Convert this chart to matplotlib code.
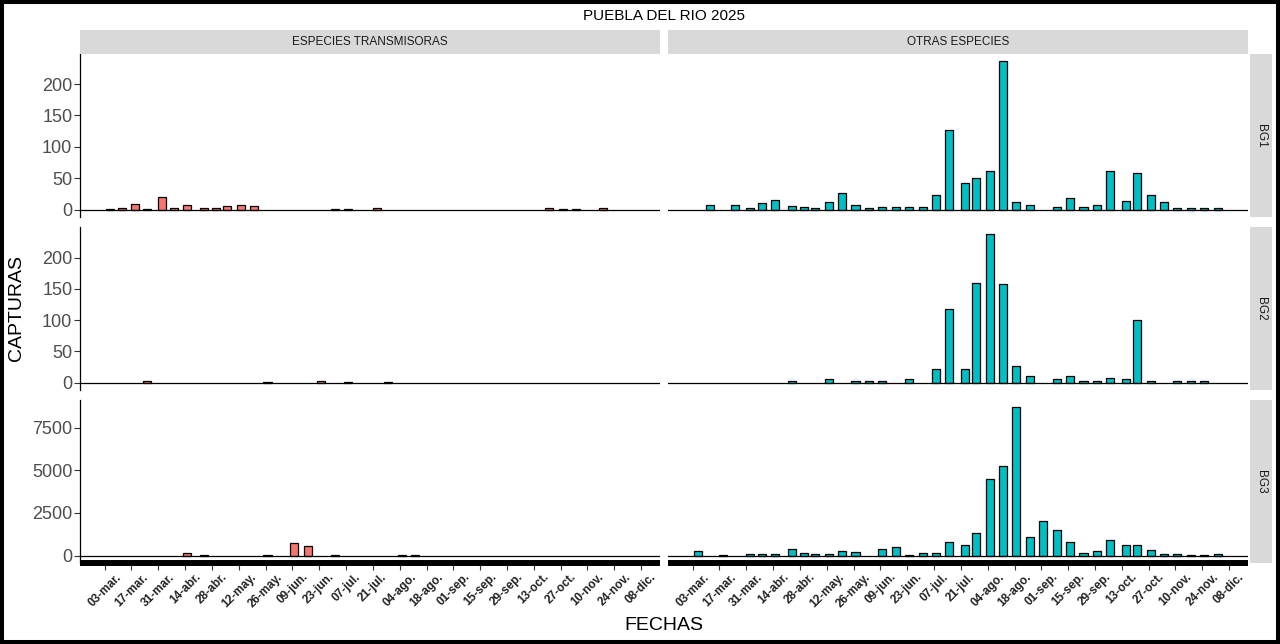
import matplotlib
matplotlib.use('Agg')
import matplotlib.pyplot as plt
import matplotlib.dates as mdates
import numpy as np
import pandas as pd
from matplotlib.patches import Rectangle

plt.rcParams['font.family'] = ['Liberation Sans', 'DejaVu Sans']

# ---------------- data ----------------
dates = ['2025-03-06', '2025-03-12', '2025-03-19', '2025-03-25', '2025-04-02', '2025-04-08',
         '2025-04-15', '2025-04-24', '2025-04-30', '2025-05-06', '2025-05-13', '2025-05-20',
         '2025-05-27', '2025-06-03', '2025-06-10', '2025-06-17', '2025-06-24', '2025-07-01',
         '2025-07-08', '2025-07-15', '2025-07-23', '2025-07-29', '2025-08-05', '2025-08-12',
         '2025-08-19', '2025-08-26', '2025-09-02', '2025-09-09', '2025-09-16', '2025-09-23',
         '2025-09-30', '2025-10-07', '2025-10-15', '2025-10-21', '2025-10-28', '2025-11-04',
         '2025-11-11', '2025-11-18', '2025-11-25', '2025-12-02']

col_names = ['ESPECIES TRANSMISORAS', 'OTRAS ESPECIES']
row_names = ['BG1', 'BG2', 'BG3']

trans_bg1 = [1, 3, 9, 1, 20, 3, 8, 3, 3, 6, 8, 6, 0, 0, 0, 0, 0, 1, 1, 0,
             3, 0, 0, 0, 0, 0, 0, 0, 0, 0, 0, 0, 0, 3, 1, 1, 0, 3, 0, 0]
trans_bg2 = [0, 0, 0, 3, 0, 0, 0, 0, 0, 0, 0, 0, 1, 0, 0, 0, 3, 0, 1, 0,
             0, 1, 0, 0, 0, 0, 0, 0, 0, 0, 0, 0, 0, 0, 0, 0, 0, 0, 0, 0]
trans_bg3 = [0, 0, 0, 0, 0, 0, 160, 60, 0, 0, 0, 0, 60, 0, 710, 590, 0, 60, 0, 0,
             0, 0, 60, 60, 0, 0, 0, 0, 0, 0, 0, 0, 0, 0, 0, 0, 0, 0, 0, 0]

otras_bg1 = [0, 7, 0, 8, 3, 10, 16, 5, 4, 2, 12, 27, 7, 2, 4, 4, 4, 4, 24, 127,
             42, 51, 62, 236, 12, 7, 0, 4, 18, 4, 7, 62, 13, 58, 24, 12, 2, 2, 2, 2]
otras_bg2 = [0, 0, 0, 0, 0, 0, 0, 2, 0, 0, 5, 0, 3, 2, 2, 0, 5, 0, 22, 117,
             21, 160, 237, 157, 26, 11, 0, 6, 10, 2, 3, 8, 5, 100, 3, 0, 2, 2, 2, 0]
otras_bg3 = [250, 0, 60, 0, 120, 120, 120, 410, 180, 120, 120, 290, 235, 0, 410, 530, 60, 175, 175, 820,
             650, 1350, 4520, 5280, 8690, 1115, 2000, 1530, 820, 175, 295, 940, 650, 650, 350, 120, 120, 60, 60, 120]

yticks_rows = [[0, 50, 100, 150, 200], [0, 50, 100, 150, 200], [0, 2500, 5000, 7500]]

tick_labels = ['03-mar.', '17-mar.', '31-mar.', '14-abr.', '28-abr.', '12-may.', '26-may.',
               '09-jun.', '23-jun.', '07-jul.', '21-jul.', '04-ago.', '18-ago.', '01-sep.',
               '15-sep.', '29-sep.', '13-oct.', '27-oct.', '10-nov.', '24-nov.', '08-dic.']
tick_start = '2025-03-03'

values = [[trans_bg1, otras_bg1], [trans_bg2, otras_bg2], [trans_bg3, otras_bg3]]
fills = ['#F8766D', '#00BFC4']

# ---------------- layout ----------------
W, H = 1280, 644
fig = plt.figure(figsize=(W / 100, H / 100), dpi=100)


def px_axes(x0, y0, x1, y1, **kw):
    return fig.add_axes([x0 / W, 1 - y1 / H, (x1 - x0) / W, (y1 - y0) / H], **kw)


cols_px = [(80, 660), (668, 1248)]
rows_px = [(54, 217), (227, 390), (400, 563)]

x = mdates.date2num(pd.to_datetime(dates))
bar_w = 4.2
start = x.min() - bar_w / 2
end = x.max() + bar_w / 2
rng = end - start
xlim = (start - 0.05 * rng, end + 0.05 * rng)
tick_pos = mdates.date2num(pd.date_range(tick_start, periods=len(tick_labels), freq='14D'))

for r, (y0, y1) in enumerate(rows_px):
    ymax = max(max(values[r][0]), max(values[r][1]))
    ylim = (-0.05 * ymax, 1.05 * ymax)
    for c, (x0, x1) in enumerate(cols_px):
        ax = px_axes(x0, y0, x1, y1)
        v = np.array(values[r][c], dtype=float)
        m = v > 0
        ax.bar(x[m], v[m], width=bar_w, color=fills[c], edgecolor='black', linewidth=0.9, zorder=2)
        ax.axhline(0, color='black', linewidth=0.9, zorder=3)
        ax.set_xlim(xlim)
        ax.set_ylim(ylim)
        for s in ['top', 'right']:
            ax.spines[s].set_visible(False)
        ax.spines['left'].set_visible(c == 0)
        ax.spines['left'].set_linewidth(0.9)
        ax.spines['bottom'].set_visible(r == 2)
        ax.spines['bottom'].set_linewidth(4.3)
        ax.spines['bottom'].set_capstyle('butt')
        if c == 0:
            ax.set_yticks(yticks_rows[r])
            ax.set_yticklabels([str(t) for t in yticks_rows[r]])
            ax.tick_params(axis='y', length=4, width=0.8, pad=1.5, labelsize=13,
                           labelcolor='#4D4D4D', color='#333333')
        else:
            ax.set_yticks([])
        if r == 2:
            ax.set_xticks(tick_pos)
            ax.set_xticklabels(tick_labels, rotation=45, fontweight='bold', color='#222222')
            ax.tick_params(axis='x', length=5, width=0.8, pad=0.8, labelsize=8.5, color='#333333')
        else:
            ax.set_xticks([])
        ax.set_facecolor('white')

# strips on top
for c, (x0, x1) in enumerate(cols_px):
    sa = px_axes(x0, 30, x1, 54)
    sa.set_facecolor('#D9D9D9')
    sa.set_xticks([]); sa.set_yticks([])
    for s in sa.spines.values():
        s.set_visible(False)
    sa.text(0.5, 0.5, col_names[c], ha='center', va='center', fontsize=8.5, color='#1A1A1A',
            transform=sa.transAxes)

# strips on right
for r, (y0, y1) in enumerate(rows_px):
    sa = px_axes(1250, y0, 1272, y1)
    sa.set_facecolor('#D9D9D9')
    sa.set_xticks([]); sa.set_yticks([])
    for s in sa.spines.values():
        s.set_visible(False)
    sa.text(0.5, 0.5, row_names[r], ha='center', va='center', fontsize=8.5, color='#1A1A1A',
            rotation=-90, transform=sa.transAxes)

fig.text(664 / W, 1 - 16 / H, 'PUEBLA DEL RIO 2025', ha='center', va='center', fontsize=11, color='black')
fig.text(17 / W, 1 - 308 / H, 'CAPTURAS', ha='center', va='center', rotation=90, fontsize=14, color='black')
fig.text(664 / W, 1 - 626 / H, 'FECHAS', ha='center', va='center', fontsize=14, color='black')

fig.patches.append(Rectangle((0, 0), 1, 1, transform=fig.transFigure, fill=False,
                             edgecolor='black', linewidth=5.8, zorder=10))

fig.savefig('out.png', dpi=100, facecolor='white')
